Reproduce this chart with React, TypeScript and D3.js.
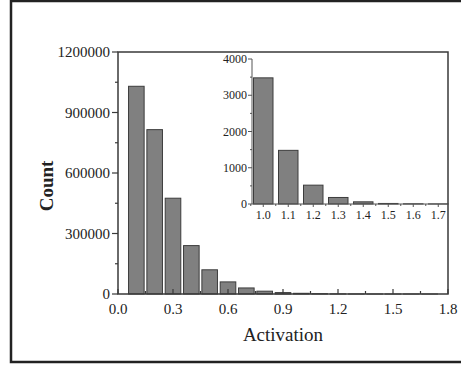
import React, { useEffect, useRef } from 'react';
import * as d3 from 'd3';

// main histogram: bin centres and counts
const mainBins = [0.1, 0.2, 0.3, 0.4, 0.5, 0.6, 0.7, 0.8, 0.9, 1.0, 1.1, 1.2, 1.3, 1.4, 1.5, 1.6, 1.7];
const mainCounts = [1030000, 815000, 475000, 240000, 120000, 60000, 30000, 14000, 7000, 3480, 1480, 520, 180, 60, 15, 5, 2];
const mainYTicks = [0, 300000, 600000, 900000, 1200000];
const mainXTicks = [0.0, 0.3, 0.6, 0.9, 1.2, 1.5, 1.8];

// inset: tail of the distribution
const insetBins = [1.0, 1.1, 1.2, 1.3, 1.4, 1.5, 1.6, 1.7];
const insetCounts = [3480, 1480, 520, 180, 60, 15, 5, 2];
const insetYTicks = [0, 1000, 2000, 3000, 4000];
const insetXTicks = [1.0, 1.1, 1.2, 1.3, 1.4, 1.5, 1.6, 1.7];

const App = () => {
  const ref = useRef<SVGSVGElement>(null);

  useEffect(() => {
    const svg = d3.select(ref.current);
    svg.selectAll('*').remove();

    const font = '"Liberation Serif", "Times New Roman", serif';
    const axisColor = '#3a3a3a';
    const barFill = '#808080';
    const barStroke = '#3c3c3c';

    // outer frame
    svg.append('rect')
      .attr('x', 11).attr('y', 1)
      .attr('width', 470).attr('height', 361)
      .attr('fill', 'none').attr('stroke', '#222').attr('stroke-width', 2.5);

    // ---- main plot ----
    const m = { left: 118, right: 448, top: 52, bottom: 294 };
    const x = d3.scaleLinear().domain([0, 1.8]).range([m.left, m.right]);
    const y = d3.scaleLinear().domain([0, 1200000]).range([m.bottom, m.top]);
    const g = svg.append('g');
    const bw = 0.085;

    g.selectAll('.bar')
      .data(mainCounts)
      .enter().append('rect')
      .attr('x', (d, i) => x(mainBins[i] - bw / 2))
      .attr('width', x(bw) - x(0))
      .attr('y', d => y(d))
      .attr('height', d => y(0) - y(d))
      .attr('fill', barFill)
      .attr('stroke', barStroke)
      .attr('stroke-width', 1);

    // frame lines
    g.append('path')
      .attr('d', `M${m.left},${m.bottom}V${m.top}H${m.right}V${m.bottom}Z`)
      .attr('fill', 'none').attr('stroke', axisColor).attr('stroke-width', 1.5);

    // y ticks (outward)
    d3.range(0, 1200001, 150000).forEach(v => {
      const major = v % 300000 === 0;
      g.append('line')
        .attr('x1', m.left).attr('x2', m.left - (major ? 6 : 3))
        .attr('y1', y(v)).attr('y2', y(v))
        .attr('stroke', axisColor).attr('stroke-width', 1.2);
    });
    g.selectAll('.ylab')
      .data(mainYTicks)
      .enter().append('text')
      .attr('x', m.left - 8)
      .attr('y', d => y(d))
      .attr('dy', '0.35em')
      .attr('text-anchor', 'end')
      .style('font-family', font).style('font-size', '15px')
      .attr('fill', '#222')
      .text(d => d);

    // x ticks (inward)
    d3.range(0, 19).map(i => i * 0.15).filter(v => v <= 1.8001).forEach((v, i) => {
      const major = i % 2 === 0;
      g.append('line')
        .attr('x1', x(v)).attr('x2', x(v))
        .attr('y1', m.bottom).attr('y2', m.bottom - (major ? 5 : 3))
        .attr('stroke', axisColor).attr('stroke-width', 1.2);
    });
    g.selectAll('.xlab')
      .data(mainXTicks)
      .enter().append('text')
      .attr('x', d => x(d))
      .attr('y', m.bottom + 20)
      .attr('text-anchor', 'middle')
      .style('font-family', font).style('font-size', '15px')
      .attr('fill', '#222')
      .text(d => d.toFixed(1));

    g.append('text')
      .attr('x', (m.left + m.right) / 2)
      .attr('y', 341)
      .attr('text-anchor', 'middle')
      .style('font-family', font).style('font-size', '19px')
      .attr('fill', '#222')
      .text('Activation');

    g.append('text')
      .attr('transform', `translate(53,186) rotate(-90)`)
      .attr('text-anchor', 'middle')
      .style('font-family', font).style('font-size', '19px')
      .style('font-weight', 'bold')
      .attr('fill', '#222')
      .text('Count');

    // ---- inset ----
    const n = { left: 252, right: 447, top: 59, bottom: 204 };
    const ix = d3.scaleLinear().domain([0.955, 1.735]).range([n.left, n.right]);
    const iy = d3.scaleLinear().domain([0, 4000]).range([n.bottom, n.top]);
    const ig = svg.append('g');
    const ibw = 0.078;

    ig.selectAll('.ibar')
      .data(insetCounts)
      .enter().append('rect')
      .attr('x', (d, i) => ix(insetBins[i] - ibw / 2))
      .attr('width', ix(ibw) - ix(0))
      .attr('y', d => iy(d))
      .attr('height', d => iy(0) - iy(d))
      .attr('fill', barFill)
      .attr('stroke', barStroke)
      .attr('stroke-width', 1);

    ig.append('path')
      .attr('d', `M${n.left},${n.top}V${n.bottom}H${n.right}`)
      .attr('fill', 'none').attr('stroke', '#555').attr('stroke-width', 1);

    d3.range(0, 4001, 500).forEach(v => {
      const major = v % 1000 === 0;
      ig.append('line')
        .attr('x1', n.left).attr('x2', n.left - (major ? 4 : 2))
        .attr('y1', iy(v)).attr('y2', iy(v))
        .attr('stroke', '#555').attr('stroke-width', 1);
    });
    ig.selectAll('.iylab')
      .data(insetYTicks)
      .enter().append('text')
      .attr('x', n.left - 5)
      .attr('y', d => iy(d))
      .attr('dy', '0.35em')
      .attr('text-anchor', 'end')
      .style('font-family', font).style('font-size', '12px')
      .attr('fill', '#222')
      .text(d => d);

    d3.range(0, 16).map(i => 0.95 + i * 0.05).filter(v => v <= 1.735).forEach(v => {
      const major = Math.abs(Math.round(v * 10) - v * 10) < 0.01;
      ig.append('line')
        .attr('x1', ix(v)).attr('x2', ix(v))
        .attr('y1', n.bottom).attr('y2', n.bottom + (major ? 3 : 2))
        .attr('stroke', '#555').attr('stroke-width', 1);
    });
    ig.selectAll('.ixlab')
      .data(insetXTicks)
      .enter().append('text')
      .attr('x', d => ix(d))
      .attr('y', n.bottom + 15)
      .attr('text-anchor', 'middle')
      .style('font-family', font).style('font-size', '12px')
      .attr('fill', '#222')
      .text(d => d.toFixed(1));
  }, []);

  return (
    <svg
      ref={ref}
      width={461}
      height={365}
      style={{ position: 'absolute', left: 0, top: 0, background: '#fff' }}
    />
  );
};

export default App;
